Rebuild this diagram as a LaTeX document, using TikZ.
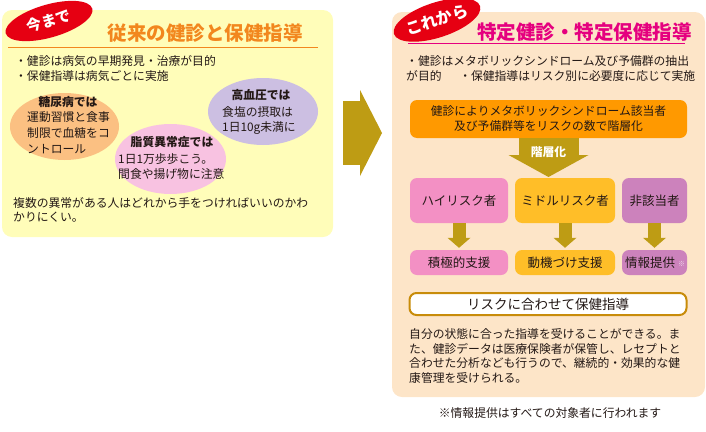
\documentclass[tikz,border=0pt]{standalone}
\usepackage{fontspec}
\setmainfont{Noto Sans CJK JP}
\usetikzlibrary{shapes.geometric,arrows.meta}

\definecolor{ink}{RGB}{35,24,21}
\definecolor{panelL}{RGB}{255,253,185}
\definecolor{panelR}{RGB}{253,229,200}
\definecolor{tagred}{RGB}{230,0,18}
\definecolor{oldorange}{RGB}{242,135,30}
\definecolor{newmag}{RGB}{229,0,127}
\definecolor{dmfill}{RGB}{251,192,130}
\definecolor{lipfill}{RGB}{248,194,225}
\definecolor{bpfill}{RGB}{204,191,226}
\definecolor{scrfill}{RGB}{255,153,0}
\definecolor{olive}{RGB}{190,156,20}
\definecolor{hifill}{RGB}{243,144,196}
\definecolor{midfill}{RGB}{255,190,40}
\definecolor{nonfill}{RGB}{204,130,188}
\definecolor{goldline}{RGB}{200,140,10}
\definecolor{notemark}{RGB}{240,220,235}

\begin{document}
\begin{tikzpicture}[x=1pt,y=-1pt]
        \tikzstyle{every node}=[inner sep=0pt,text=ink]
        \tikzstyle{panel}=[rounded corners=10pt]
        \tikzstyle{badge}=[ellipse,fill=tagred,text=white,font=\fontsize{15}{15}\selectfont\bfseries]
        \tikzstyle{ttl}=[font=\fontsize{19.5}{20}\selectfont\bfseries]
        \tikzstyle{txt}=[anchor=west,align=left,font=\fontsize{11.8}{15}\selectfont]
        \tikzstyle{blob}=[ellipse]
        \tikzstyle{hd}=[font=\fontsize{11.8}{15}\selectfont\bfseries]
        \tikzstyle{box}=[rounded corners=7pt,align=center,font=\fontsize{12.5}{15}\selectfont]
        \tikzstyle{fat}=[olive,line width=60pt,-{Triangle[width=80pt,length=22pt,line width=0pt]}]
        \tikzstyle{thin}=[olive,line width=13pt,shorten >=2pt,-{Triangle[width=23pt,length=10pt,line width=0pt]}]

        \useasboundingbox (0,0) rectangle (706,431);

        % --- before ---
        \node [panel,fill=panelL,minimum width=331pt,minimum height=227pt] (old) at (167.5,123.5) {};
        \node [badge,rotate=16,minimum width=90pt,minimum height=33pt] (oldtag) at (49,21) {今まで};
        \node [ttl,text=oldorange] (oldttl) at (205,33) {従来の健診と保健指導};
        \draw [oldorange,line width=1pt] (8,47) -- (318,47);
        \node [txt] (oldpts) at (15,68.5) {・健診は病気の早期発見・治療が目的\\・保健指導は病気ごとに実施};

        \node [blob,fill=dmfill,minimum width=109pt,minimum height=67pt] (dm) at (64.5,126.5) {};
        \node [hd] (dm_hd) at (68,102) {糖尿病では};
        \node [txt,font=\fontsize{11.8}{16}\selectfont] (dm_txt) at (27,133) {運動習慣と食事\\制限で血糖をコ\\ントロール};

        \node [blob,fill=lipfill,minimum width=111pt,minimum height=70pt] (lip) at (170.5,159) {};
        \node [hd] (lip_hd) at (172,142) {脂質異常症では};
        \node [txt] (lip_txt) at (118,166.5) {1日1万歩歩こう。\\間食や揚げ物に注意};

        \node [blob,fill=bpfill,minimum width=110pt,minimum height=67pt] (bp) at (263,111.5) {};
        \node [hd] (bp_hd) at (261,95) {高血圧では};
        \node [txt] (bp_txt) at (222,120.5) {食塩の摂取は\\1日10g未満に};

        \node [txt,font=\fontsize{11.8}{14.5}\selectfont] (oldnote) at (13,210) {複数の異常がある人はどれから手をつければいいのかわ\\かりにくい。};

        % --- arrow between ---
        \coordinate (go0) at (343,133);
        \coordinate (go1) at (382,133);
        \draw [olive,line width=64pt,-{Triangle[width=86pt,length=22pt,line width=0pt]}] (go0) -- (go1);

        % --- after ---
        \node [panel,fill=panelR,minimum width=313pt,minimum height=385pt] (new) at (548.5,204.5) {};
        \node [badge,rotate=18,minimum width=90pt,minimum height=35pt,font=\fontsize{16}{16}\selectfont\bfseries] (newtag) at (437,20) {これから};
        \node [ttl,text=newmag] (newttl) at (584.5,32) {特定健診・特定保健指導};
        \draw [newmag,line width=1pt] (408,43) -- (685,43);
        \node [txt] (newpts) at (406,69) {・健診はメタボリックシンドローム及び予備群の抽出\\が目的\quad\enspace・保健指導はリスク別に必要度に応じて実施};

        \node [box,fill=scrfill,minimum width=277pt,minimum height=38pt,font=\fontsize{11.8}{15}\selectfont] (scr) at (548.5,119) {健診によりメタボリックシンドローム該当者\\及び予備群等をリスクの数で階層化};
        \coordinate (lv) at (548.5,177);
        \draw [fat] (scr.south) -- (lv);
        \node [hd,text=white] (lv_label) at (548.5,152) {階層化};

        \foreach \n/\x/\w/\c/\up/\dn in {1/459/98/hifill/ハイリスク者/積極的支援,
                2/565/100/midfill/ミドルリスク者/動機づけ支援,
                3/654.5/65/nonfill/非該当者/情報提供\hspace{9pt}} {
            \node [box,fill=\c,minimum width=\w pt,minimum height=45pt] (r\n) at (\x,200.5) {\up};
            \node [box,fill=\c,minimum width=\w pt,minimum height=25pt] (s\n) at (\x,262.5) {\dn};
            \draw [thin] (r\n) -- (s\n);
        };
        \node [font=\fontsize{7}{7}\selectfont,text=notemark] (s3_mark) at (681.5,264) {※};   % footnote mark

        \node [box,draw=goldline,line width=2pt,fill=white,minimum width=277pt,minimum height=22pt,font=\fontsize{13.5}{15}\selectfont] (guide) at (548,304) {リスクに合わせて保健指導};
        \node [txt,font=\fontsize{11.8}{14.7}\selectfont] (merit) at (409,356) {自分の状態に合った指導を受けることができる。ま\\た、健診データは医療保険者が保管し、レセプトと\\合わせた分析なども行うので、継続的・効果的な健\\康管理を受けられる。};

        \node [txt,anchor=center] (fn) at (550,413) {※情報提供はすべての対象者に行われます};
\end{tikzpicture}
\end{document}
